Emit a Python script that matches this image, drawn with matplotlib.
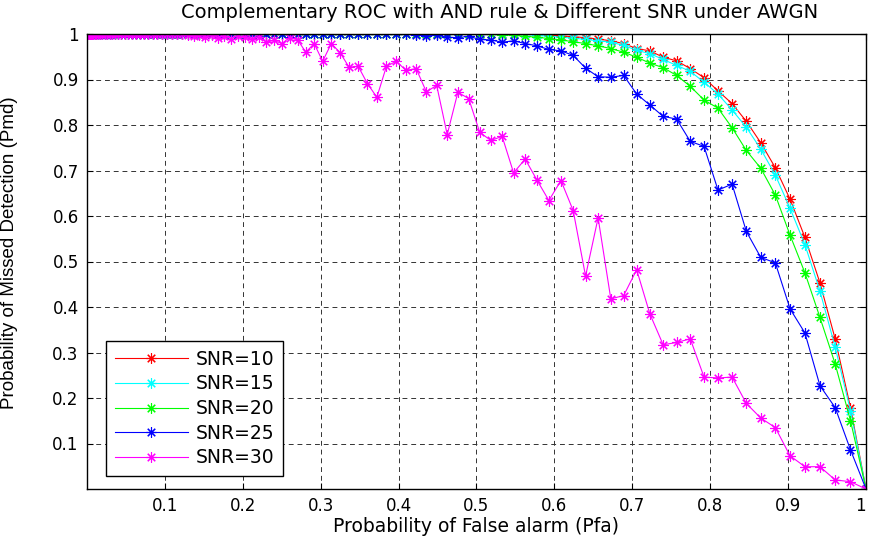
import matplotlib
matplotlib.use("Agg")
import matplotlib.pyplot as plt

# Pfa values (common to all curves)
pfa = [0.0, 0.0001, 0.0004, 0.0009, 0.0016, 0.0025, 0.0036, 0.0049, 0.0064, 0.0081,
       0.01, 0.0121, 0.0144, 0.0169, 0.0196, 0.0225, 0.0256, 0.0289, 0.0324, 0.0361,
       0.04, 0.0441, 0.0484, 0.0529, 0.0576, 0.0625, 0.0676, 0.0729, 0.0784, 0.0841,
       0.09, 0.0961, 0.1024, 0.1089, 0.1156, 0.1225, 0.1296, 0.1369, 0.1444, 0.1521,
       0.16, 0.1681, 0.1764, 0.1849, 0.1936, 0.2025, 0.2116, 0.2209, 0.2304, 0.2401,
       0.25, 0.2601, 0.2704, 0.2809, 0.2916, 0.3025, 0.3136, 0.3249, 0.3364, 0.3481,
       0.36, 0.3721, 0.3844, 0.3969, 0.4096, 0.4225, 0.4356, 0.4489, 0.4624, 0.4761,
       0.49, 0.5041, 0.5184, 0.5329, 0.5476, 0.5625, 0.5776, 0.5929, 0.6084, 0.6241,
       0.64, 0.6561, 0.6724, 0.6889, 0.7056, 0.7225, 0.7396, 0.7569, 0.7744, 0.7921,
       0.81, 0.8281, 0.8464, 0.8649, 0.8836, 0.9025, 0.9216, 0.9409, 0.9604, 0.9801,
       1.0]

# Pmd for each SNR
pmd_10 = [1.0, 1.0, 1.0, 1.0, 1.0, 1.0, 1.0, 1.0, 1.0, 1.0,
          1.0, 1.0, 1.0, 1.0, 1.0, 1.0, 1.0, 1.0, 1.0, 1.0,
          1.0, 1.0, 1.0, 1.0, 1.0, 1.0, 1.0, 1.0, 1.0, 1.0,
          1.0, 1.0, 1.0, 1.0, 1.0, 1.0, 1.0, 1.0, 1.0, 1.0,
          1.0, 1.0, 1.0, 1.0, 1.0, 1.0, 1.0, 1.0, 1.0, 1.0,
          1.0, 1.0, 1.0, 1.0, 1.0, 1.0, 1.0, 1.0, 1.0, 1.0,
          1.0, 1.0, 1.0, 1.0, 1.0, 1.0, 1.0, 1.0, 1.0, 1.0,
          1.0, 1.0, 1.0, 1.0, 1.0, 1.0, 0.999, 0.998, 0.996, 0.994,
          0.992, 0.989, 0.985, 0.979, 0.968, 0.963, 0.949, 0.941, 0.924, 0.904,
          0.875, 0.847, 0.808, 0.761, 0.706, 0.637, 0.553, 0.453, 0.330, 0.179,
          0.0]
pmd_15 = [1.0, 1.0, 1.0, 1.0, 1.0, 1.0, 1.0, 1.0, 1.0, 1.0,
          1.0, 1.0, 1.0, 1.0, 1.0, 1.0, 1.0, 1.0, 1.0, 1.0,
          1.0, 1.0, 1.0, 1.0, 1.0, 1.0, 1.0, 1.0, 1.0, 1.0,
          1.0, 1.0, 1.0, 1.0, 1.0, 1.0, 1.0, 1.0, 1.0, 1.0,
          1.0, 1.0, 1.0, 1.0, 1.0, 1.0, 1.0, 1.0, 1.0, 1.0,
          1.0, 1.0, 1.0, 1.0, 1.0, 1.0, 1.0, 1.0, 1.0, 1.0,
          1.0, 1.0, 1.0, 1.0, 1.0, 1.0, 1.0, 1.0, 1.0, 1.0,
          1.0, 1.0, 1.0, 1.0, 0.999, 0.999, 0.997, 0.995, 0.993, 0.991,
          0.988, 0.985, 0.982, 0.975, 0.964, 0.957, 0.944, 0.931, 0.918, 0.894,
          0.868, 0.833, 0.795, 0.747, 0.690, 0.617, 0.537, 0.435, 0.312, 0.172,
          0.0]
pmd_20 = [1.0, 1.0, 1.0, 1.0, 1.0, 1.0, 1.0, 1.0, 1.0, 1.0,
          1.0, 1.0, 1.0, 1.0, 1.0, 1.0, 1.0, 1.0, 1.0, 1.0,
          1.0, 1.0, 1.0, 1.0, 1.0, 1.0, 1.0, 1.0, 1.0, 1.0,
          1.0, 1.0, 1.0, 1.0, 1.0, 1.0, 1.0, 1.0, 1.0, 1.0,
          1.0, 1.0, 1.0, 1.0, 1.0, 1.0, 1.0, 1.0, 1.0, 1.0,
          1.0, 1.0, 1.0, 1.0, 1.0, 1.0, 1.0, 1.0, 1.0, 1.0,
          1.0, 1.0, 1.0, 1.0, 1.0, 1.0, 1.0, 1.0, 1.0, 1.0,
          1.0, 0.999, 0.999, 0.998, 0.997, 0.995, 0.993, 0.990, 0.987, 0.983,
          0.979, 0.974, 0.968, 0.960, 0.949, 0.936, 0.926, 0.909, 0.885, 0.855,
          0.837, 0.794, 0.744, 0.705, 0.646, 0.558, 0.475, 0.377, 0.275, 0.150,
          0.0]
pmd_25 = [1.0, 1.0, 1.0, 1.0, 1.0, 1.0, 1.0, 1.0, 1.0, 1.0,
          1.0, 1.0, 1.0, 1.0, 1.0, 1.0, 1.0, 1.0, 1.0, 1.0,
          1.0, 1.0, 1.0, 1.0, 1.0, 1.0, 1.0, 1.0, 1.0, 1.0,
          1.0, 1.0, 1.0, 1.0, 1.0, 1.0, 1.0, 1.0, 1.0, 1.0,
          1.0, 1.0, 1.0, 1.0, 1.0, 1.0, 1.0, 1.0, 1.0, 1.0,
          1.0, 1.0, 1.0, 1.0, 1.0, 1.0, 1.0, 1.0, 1.0, 1.0,
          1.0, 1.0, 1.0, 1.0, 0.999, 0.998, 0.996, 0.997, 0.993, 0.992,
          0.995, 0.988, 0.987, 0.982, 0.985, 0.979, 0.974, 0.966, 0.963, 0.953,
          0.925, 0.906, 0.905, 0.909, 0.868, 0.844, 0.819, 0.813, 0.764, 0.753,
          0.657, 0.670, 0.566, 0.509, 0.497, 0.396, 0.343, 0.227, 0.179, 0.086,
          0.0]
pmd_30 = [1.0, 1.0, 1.0, 1.0, 1.0, 1.0, 1.0, 1.0, 1.0, 1.0,
          1.0, 1.0, 1.0, 1.0, 1.0, 1.0, 1.0, 1.0, 1.0, 1.0,
          1.0, 1.0, 1.0, 1.0, 1.0, 1.0, 1.0, 1.0, 1.0, 1.0,
          1.0, 1.0, 1.0, 1.0, 1.0, 1.0, 0.998, 0.995, 0.998, 0.993,
          0.997, 0.992, 0.995, 0.990, 0.996, 0.993, 0.988, 0.994, 0.982, 0.986,
          0.979, 0.992, 0.987, 0.960, 0.979, 0.940, 0.979, 0.959, 0.927, 0.929,
          0.891, 0.861, 0.929, 0.940, 0.920, 0.924, 0.873, 0.887, 0.779, 0.872,
          0.858, 0.784, 0.766, 0.775, 0.695, 0.725, 0.679, 0.634, 0.678, 0.612,
          0.468, 0.596, 0.418, 0.425, 0.482, 0.385, 0.317, 0.322, 0.330, 0.246,
          0.244, 0.246, 0.188, 0.156, 0.135, 0.073, 0.049, 0.049, 0.020, 0.016,
          0.0]

labels = ["SNR=10", "SNR=15", "SNR=20", "SNR=25", "SNR=30"]
colors = ["#ff0000", "#00ffff", "#00ff00", "#0000ff", "#ff00ff"]
series = [pmd_10, pmd_15, pmd_20, pmd_25, pmd_30]

ticks = [0.1, 0.2, 0.3, 0.4, 0.5, 0.6, 0.7, 0.8, 0.9, 1]
tick_labels = ["0.1", "0.2", "0.3", "0.4", "0.5", "0.6", "0.7", "0.8", "0.9", "1"]

plt.rcParams["font.family"] = ["DejaVu Sans"]

fig = plt.figure(figsize=(8.7, 5.4), dpi=100)
ax = fig.add_axes([87 / 870, 51 / 540, 779 / 870, 455 / 540])

for y, c, lab in zip(series, colors, labels):
    ax.plot(pfa, y, color=c, lw=0.8, marker=(8, 2, 0), markersize=7.5,
            markeredgewidth=0.8, label=lab)

ax.set_xlim(0, 1)
ax.set_ylim(0, 1)
ax.set_xticks(ticks)
ax.set_xticklabels(tick_labels)
ax.set_yticks(ticks)
ax.set_yticklabels(tick_labels)
ax.tick_params(direction="in", top=True, right=True, length=4, width=0.8,
               labelsize=12, pad=6)
ax.get_xticklabels()[-1].set_horizontalalignment("right")
ax.grid(True, color="#333333", linestyle=(0, (5, 4)), linewidth=0.7)
for sp in ax.spines.values():
    sp.set_linewidth(1.0)

fig.text(500 / 870, 1 - 13 / 540, "Complementary ROC with AND rule & Different SNR under AWGN",
         ha="center", va="center", fontsize=14)
ax.set_xlabel("Probability of False alarm (Pfa)", fontsize=13.5, labelpad=1)
ax.set_ylabel("Probability of Missed Detection (Pmd)", fontsize=13.5,
              family="Liberation Sans")
ax.yaxis.set_label_coords(-0.088, 0.52)

leg = ax.legend(loc="lower left", bbox_to_anchor=(0.025, 0.029), borderaxespad=0,
                fontsize=13.5, numpoints=1, handlelength=3.9, labelspacing=0.3,
                fancybox=False, framealpha=1, edgecolor="black", borderpad=0.45,
                handletextpad=0.4)
leg.get_frame().set_linewidth(1.0)

fig.savefig("out.png", dpi=100)
